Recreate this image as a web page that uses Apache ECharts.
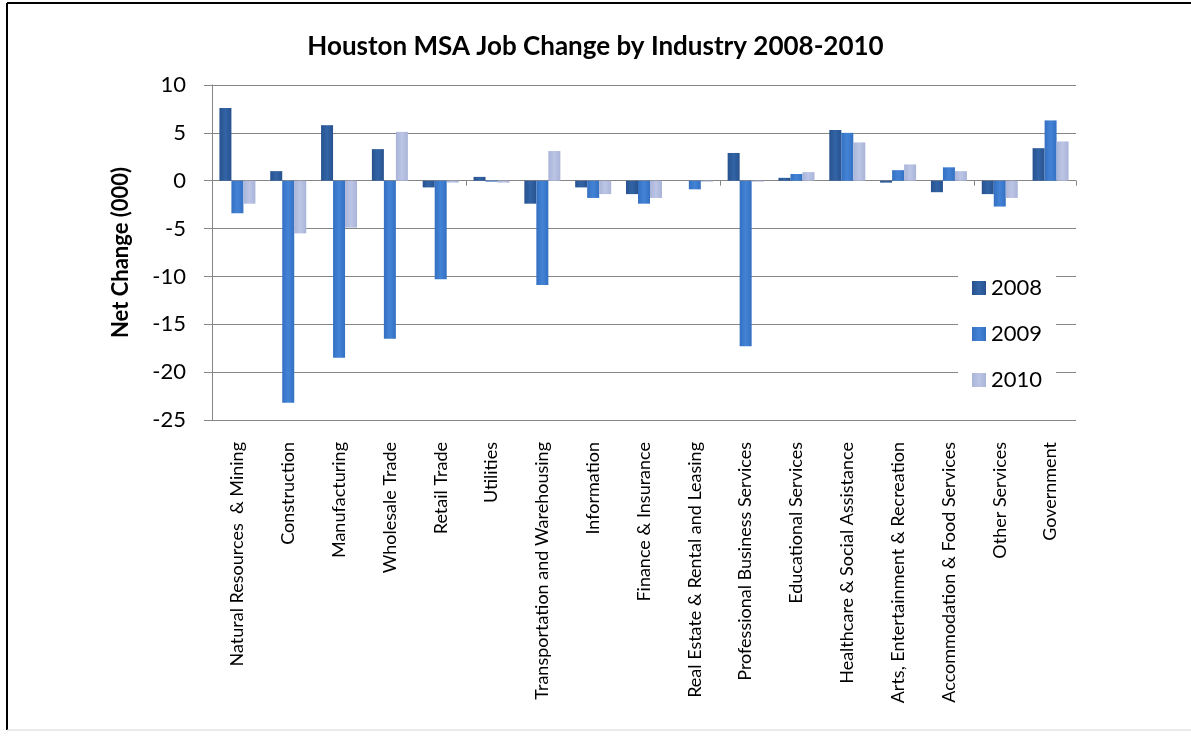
<!DOCTYPE html>
<html>
<head>
<meta charset="utf-8">
<script src="https://cdn.jsdelivr.net/npm/echarts@6/dist/echarts.min.js"></script>
<style>
  html, body { margin: 0; padding: 0; background: #ffffff; }
  #chart { width: 1191px; height: 742px; }
</style>
</head>
<body>
<div id="chart"></div>
<script>
// Houston MSA net job change by industry, thousands of jobs
const categories = [
  'Natural Resources  & Mining', 'Construction', 'Manufacturing', 'Wholesale Trade',
  'Retail Trade', 'Utilities', 'Transportation and Warehousing', 'Information',
  'Finance & Insurance', 'Real Estate & Rental and Leasing', 'Professional Business Services',
  'Educational Services', 'Healthcare & Social Assistance', 'Arts, Entertainment & Recreation',
  'Accommodation & Food Services', 'Other Services', 'Government'
];
const jobs2008 = [7.6, 1.0, 5.8, 3.3, -0.7, 0.4, -2.4, -0.7, -1.4, 0.0, 2.9, 0.3, 5.3, -0.2, -1.2, -1.4, 3.4];
const jobs2009 = [-3.4, -23.2, -18.5, -16.5, -10.3, -0.1, -10.9, -1.8, -2.4, -0.9, -17.3, 0.7, 5.0, 1.1, 1.4, -2.7, 6.3];
const jobs2010 = [-2.4, -5.5, -4.9, 5.1, -0.2, -0.2, 3.1, -1.4, -1.8, -0.1, -0.1, 0.9, 4.0, 1.7, 1.0, -1.8, 4.1];
const seriesNames = ['2008', '2009', '2010'];
const yMin = -25, yMax = 10, yStep = 5;

const FONT = 'Lato, "Open Sans", sans-serif';
const AXIS_GREY = '#868686';

function shaded(edge, mid) {
  return new echarts.graphic.LinearGradient(0, 0, 1, 0, [
    { offset: 0, color: edge }, { offset: 0.5, color: mid }, { offset: 1, color: edge }
  ]);
}
const palette = [
  { bar: shaded('#28528e', '#3264a6'), legend: '#2c5a9a' },
  { bar: shaded('#3470c2', '#4383d6'), legend: '#3b78cc' },
  { bar: shaded('#a9b4d9', '#bcc5e5'), legend: '#b3bde0' }
];

const chart = echarts.init(document.getElementById('chart'), null, { renderer: 'canvas' });

const barSeries = [jobs2008, jobs2009, jobs2010].map((vals, i) => ({
  name: seriesNames[i],
  type: 'bar',
  xAxisIndex: 0,
  yAxisIndex: 0,
  data: vals,
  barWidth: 12,
  barGap: '0%',
  color: palette[i].legend,
  itemStyle: { color: palette[i].bar },
  emphasis: { disabled: true }
}));

chart.setOption({
  backgroundColor: '#ffffff',
  animation: false,
  textStyle: { fontFamily: FONT },
  title: {
    text: 'Houston MSA Job Change by Industry 2008-2010',
    left: 'center',
    top: 29,
    textStyle: { fontFamily: FONT, fontSize: 26, fontWeight: 'bold', color: '#000000' }
  },
  legend: {
    orient: 'vertical',
    left: 958,
    top: 271,
    itemWidth: 14,
    itemHeight: 14,
    itemGap: 24,
    icon: 'rect',
    backgroundColor: '#ffffff',
    padding: [6, 14, 6, 14],
    textStyle: { fontFamily: FONT, fontSize: 22, color: '#000000' },
    data: seriesNames
  },
  grid: { left: 212, right: 115, top: 85, bottom: 322, containLabel: false },
  xAxis: [
    {
      type: 'category',
      data: categories,
      position: 'bottom',
      axisLine: { show: false, onZero: false },
      axisTick: { show: false },
      splitLine: { show: false },
      axisLabel: {
        interval: 0,
        rotate: 90,
        margin: 22,
        fontSize: 18,
        fontFamily: FONT,
        color: '#000000'
      }
    },
    {
      type: 'category',
      data: categories,
      position: 'bottom',
      axisLine: { show: true, onZero: true, lineStyle: { color: AXIS_GREY, width: 1 } },
      axisTick: { show: true, length: 5, lineStyle: { color: AXIS_GREY } },
      axisLabel: { show: false },
      splitLine: { show: false }
    }
  ],
  yAxis: {
    type: 'value',
    min: yMin,
    max: yMax,
    interval: yStep,
    name: 'Net Change (000)',
    nameLocation: 'middle',
    nameGap: 80,
    nameTextStyle: { fontFamily: FONT, fontSize: 22, fontWeight: 'bold', color: '#000000' },
    axisLine: { show: true, lineStyle: { color: AXIS_GREY, width: 1 } },
    axisTick: { show: true, length: 8, lineStyle: { color: AXIS_GREY } },
    axisLabel: { margin: 26, fontSize: 22, fontFamily: FONT, color: '#000000' },
    splitLine: { show: true, lineStyle: { color: AXIS_GREY, width: 1 } }
  },
  graphic: [
    { type: 'line', silent: true, shape: { x1: 7, y1: 3, x2: 7, y2: 730 }, style: { stroke: '#000000', lineWidth: 2 } },
    { type: 'line', silent: true, shape: { x1: 7, y1: 3, x2: 1191, y2: 3 }, style: { stroke: '#000000', lineWidth: 2 } },
    { type: 'line', silent: true, shape: { x1: 7, y1: 730, x2: 1191, y2: 730 }, style: { stroke: '#d6d6d6', lineWidth: 1 } }
  ],
  series: barSeries
});
</script>
</body>
</html>
